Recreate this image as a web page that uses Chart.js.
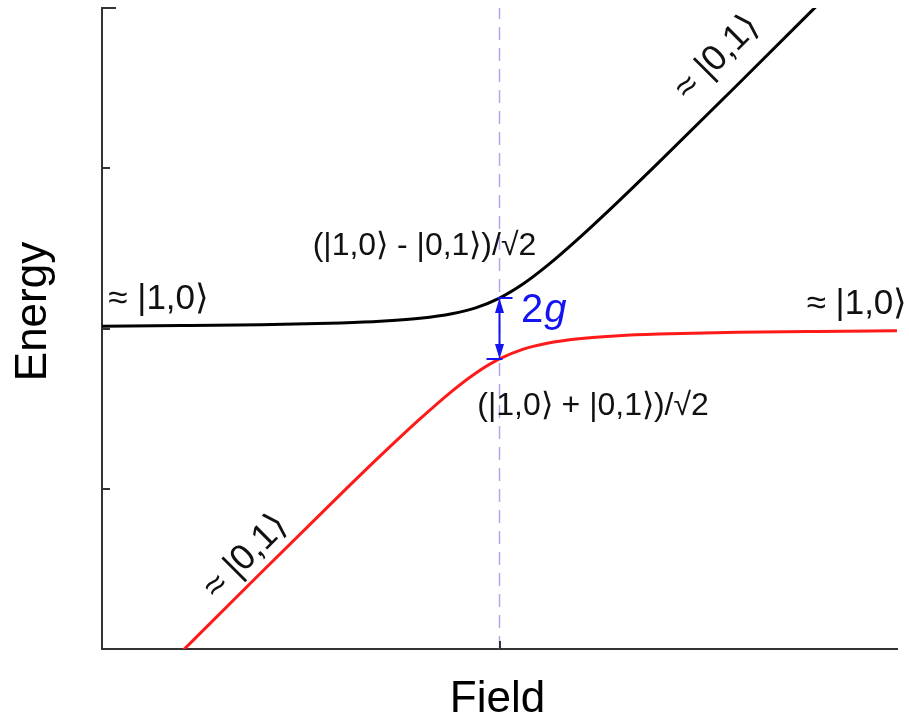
<!DOCTYPE html>
<html lang="en">
<head>
<meta charset="UTF-8">
<title>Energy vs Field</title>
<script src="https://cdn.jsdelivr.net/npm/chart.js"></script>
<style>
  body { margin: 0; background: #fff; }
  #wrap { width: 909px; height: 717px; }
</style>
</head>
<body>
<div id="wrap"><canvas id="levels" width="909" height="717"></canvas></div>
<script>
// field values and the two coupled energy branches
const field = [-5, -4, -3, -2, -1.5, -1, -0.6, -0.3, 0, 0.3, 0.6, 1, 1.5, 2, 3, 4, 5];
const upperBranch = [2.014, 2.018, 2.024, 2.035, 2.045, 2.064, 2.092, 2.129, 2.19, 2.279, 2.392, 2.564, 2.795, 3.035, 3.524, 4.018, 4.514];
const lowerBranch = [-0.514, -0.018, 0.476, 0.965, 1.205, 1.436, 1.608, 1.721, 1.81, 1.871, 1.908, 1.936, 1.955, 1.965, 1.976, 1.982, 1.986];
const resonance = 0;
const xTicks = [0];
const yTicks = [0, 1, 2, 3, 4];

const FONT = '"Liberation Sans", Arial, sans-serif';

// text labels placed in data coordinates
const stateLabels = [
  { text: '\u2248 |1,0\u27E9', x: -4.92, y: 2.12, align: 'left', rot: 0, size: 35 },
  { text: '\u2248 |1,0\u27E9', x: 5.13, y: 2.09, align: 'right', rot: 0, size: 35 },
  { text: '(|1,0\u27E9 - |0,1\u27E9)/\u221A2', x: -2.35, y: 2.46, align: 'left', rot: 0, size: 32 },
  { text: '(|1,0\u27E9 + |0,1\u27E9)/\u221A2', x: -0.28, y: 1.46, align: 'left', rot: 0, size: 32 },
  { text: '\u2248 |0,1\u27E9', x: 2.74, y: 3.69, align: 'center', rot: -45, size: 36 },
  { text: '\u2248 |0,1\u27E9', x: -3.19, y: 0.575, align: 'center', rot: -45, size: 36 }
];

const extras = {
  id: 'extras',
  afterDraw(chart) {
    const ctx = chart.ctx;
    const xs = chart.scales.x, ys = chart.scales.y;
    const area = chart.chartArea;
    ctx.save();

    // inward tick marks
    ctx.strokeStyle = '#333';
    ctx.lineWidth = 2;
    ctx.beginPath();
    xTicks.forEach(v => {
      const px = Math.round(xs.getPixelForValue(v));
      ctx.moveTo(px, area.bottom);
      ctx.lineTo(px, area.bottom - 8);
    });
    yTicks.forEach(v => {
      const py = Math.round(ys.getPixelForValue(v));
      ctx.moveTo(area.left, py);
      ctx.lineTo(area.left + (v === 4 ? 14 : 8), py);
    });
    ctx.stroke();

    // 2g splitting arrow at resonance
    const i = field.indexOf(resonance);
    const ax = xs.getPixelForValue(resonance);
    const yT = ys.getPixelForValue(upperBranch[i]);
    const yB = ys.getPixelForValue(lowerBranch[i]);
    ctx.strokeStyle = '#1414f0';
    ctx.fillStyle = '#1414f0';
    ctx.lineWidth = 2;
    ctx.beginPath();
    ctx.moveTo(ax, yT + 10);
    ctx.lineTo(ax, yB - 10);
    ctx.moveTo(ax - 2, yT);
    ctx.lineTo(ax + 13, yT);
    ctx.moveTo(ax - 13, yB);
    ctx.lineTo(ax + 3, yB);
    ctx.stroke();
    ctx.beginPath();
    ctx.moveTo(ax, yT);
    ctx.lineTo(ax - 4.5, yT + 15);
    ctx.lineTo(ax + 4.5, yT + 15);
    ctx.closePath();
    ctx.moveTo(ax, yB);
    ctx.lineTo(ax - 4.5, yB - 15);
    ctx.lineTo(ax + 4.5, yB - 15);
    ctx.closePath();
    ctx.fill();

    ctx.textBaseline = 'alphabetic';
    ctx.textAlign = 'left';
    const gx = xs.getPixelForValue(0.27), gy = ys.getPixelForValue(2.04);
    ctx.font = '40px ' + FONT;
    ctx.fillText('2', gx, gy);
    const w2 = ctx.measureText('2').width;
    ctx.font = 'italic 40px ' + FONT;
    ctx.fillText('g', gx + w2 + 1, gy);

    // state labels
    ctx.fillStyle = '#111';
    stateLabels.forEach(l => {
      const px = xs.getPixelForValue(l.x), py = ys.getPixelForValue(l.y);
      ctx.save();
      ctx.font = l.size + 'px ' + FONT;
      ctx.translate(px, py);
      ctx.rotate(l.rot * Math.PI / 180);
      ctx.textAlign = l.align;
      ctx.textBaseline = l.rot ? 'middle' : 'alphabetic';
      ctx.fillText(l.text, 0, 0);
      ctx.restore();
    });

    // axis titles
    ctx.fillStyle = '#000';
    ctx.font = '44px ' + FONT;
    ctx.textAlign = 'center';
    ctx.textBaseline = 'alphabetic';
    ctx.fillText('Field', (area.left + area.right) / 2 - 2, 712);
    ctx.save();
    ctx.translate(46, (area.top + area.bottom) / 2 - 17);
    ctx.rotate(-Math.PI / 2);
    ctx.fillText('Energy', 0, 0);
    ctx.restore();

    ctx.restore();
  }
};

new Chart(document.getElementById('levels'), {
  type: 'line',
  data: {
    datasets: [
      {
        label: 'upper',
        data: field.map((x, k) => ({ x: x, y: upperBranch[k] })),
        borderColor: '#000',
        borderWidth: 3,
        pointRadius: 0,
        cubicInterpolationMode: 'monotone'
      },
      {
        label: 'lower',
        data: field.map((x, k) => ({ x: x, y: lowerBranch[k] })),
        borderColor: '#ff1a1a',
        borderWidth: 3,
        pointRadius: 0,
        cubicInterpolationMode: 'monotone'
      },
      {
        label: 'resonance',
        data: [{ x: resonance, y: yTicks[0] }, { x: resonance, y: yTicks[yTicks.length - 1] }],
        borderColor: '#aaaaf2',
        borderWidth: 1.5,
        borderDash: [13, 8],
        pointRadius: 0
      }
    ]
  },
  options: {
    responsive: false,
    animation: false,
    events: [],
    layout: { padding: { left: 102, right: 12, top: 8, bottom: 68 } },
    plugins: { legend: { display: false }, tooltip: { enabled: false } },
    scales: {
      x: {
        type: 'linear', min: -5, max: 5,
        grid: { display: false, drawTicks: false },
        ticks: { display: false },
        border: { display: true, color: '#333', width: 2 }
      },
      y: {
        type: 'linear', min: 0, max: 4,
        grid: { display: false, drawTicks: false },
        ticks: { display: false },
        border: { display: true, color: '#333', width: 2 }
      }
    }
  },
  plugins: [extras]
});
</script>
</body>
</html>
